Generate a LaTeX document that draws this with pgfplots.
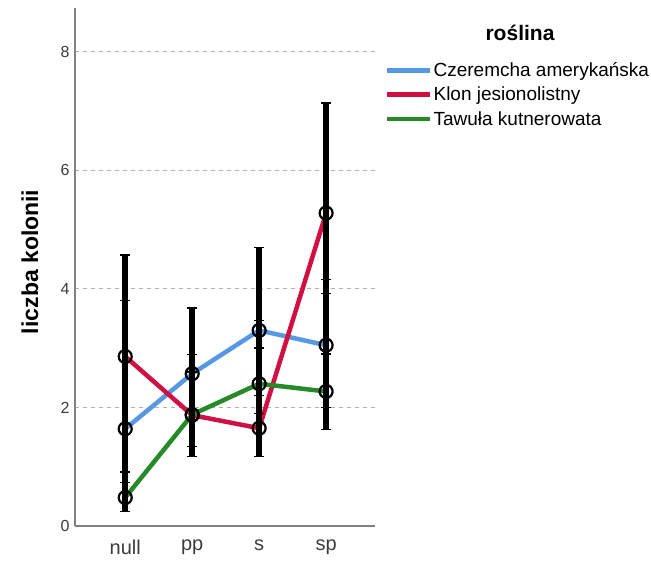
\documentclass[border=0pt]{standalone}
\usepackage{pgfplots}
\pgfplotsset{compat=1.18}
\usepackage{pgfplotstable}
\usepackage{fontspec}
\setmainfont{Liberation Sans}
\definecolor{cblue}{RGB}{86,152,226}
\definecolor{cred}{RGB}{208,16,66}
\definecolor{cgreen}{RGB}{38,138,40}
\definecolor{gridgray}{RGB}{175,175,175}
\definecolor{axgray}{RGB}{130,130,130}
\definecolor{ticktext}{RGB}{60,60,60}
% x y lower upper
\pgfplotstableread{
x y lo hi
0 1.64 0.24 3.80
1 2.57 1.34 3.68
2 3.30 2.20 4.70
3 3.05 2.00 4.16
}\czeremcha
\pgfplotstableread{
x y lo hi
0 2.86 0.91 4.57
1 1.87 1.17 2.89
2 1.65 1.17 3.47
3 5.28 3.92 7.14
}\klon
\pgfplotstableread{
x y lo hi
0 0.48 0.24 0.73
1 1.88 1.34 2.60
2 2.40 1.90 3.00
3 2.27 1.63 2.90
}\tawula
\pgfplotstablecreatecol[expr={\thisrow{hi}-\thisrow{y}}]{ep}{\czeremcha}
\pgfplotstablecreatecol[expr={\thisrow{y}-\thisrow{lo}}]{em}{\czeremcha}
\pgfplotstablecreatecol[expr={\thisrow{hi}-\thisrow{y}}]{ep}{\klon}
\pgfplotstablecreatecol[expr={\thisrow{y}-\thisrow{lo}}]{em}{\klon}
\pgfplotstablecreatecol[expr={\thisrow{hi}-\thisrow{y}}]{ep}{\tawula}
\pgfplotstablecreatecol[expr={\thisrow{y}-\thisrow{lo}}]{em}{\tawula}
\begin{document}
\begin{tikzpicture}
\path[use as bounding box] (0,0) rectangle (651pt,562pt);
\begin{axis}[
  at={(75pt,36pt)}, anchor=south west,
  scale only axis, width=300pt, height=518pt,
  xmin=-0.75, xmax=3.73, ymin=0, ymax=8.74,
  axis lines*=left,
  axis line style={axgray, line width=1.2pt},
  xtick={0,1,2,3}, xticklabels={null,pp,s,sp},
  ytick={0,2,4,6,8},
  major tick length=0pt,
  ymajorgrids, grid style={gridgray, dashed, line width=0.9pt, dash pattern=on 4pt off 4pt},
  /pgf/number format/assume math mode=true,
  xticklabel style={font=\fontsize{20}{20}\selectfont, color=ticktext, yshift=-10pt},
  yticklabel style={font=\fontsize{16}{16}\selectfont, color=ticktext, xshift=-2pt},
  ylabel={\textbf{liczba kolonii}},
  ylabel style={font=\fontsize{23}{23}\selectfont, at={(axis description cs:-0.15,0.51)}, anchor=center, rotate=0},
  legend style={draw=none, fill=none, at={(axis description cs:1.033,0.895)}, anchor=north west,
    font=\fontsize{19}{19}\selectfont, row sep=9pt, inner sep=0pt,
    nodes={inner xsep=1pt, inner ysep=0pt}},
  legend cell align=left,
  legend image code/.code={\draw[line width=4.5pt] (0pt,0pt) -- (43pt,0pt);},
  clip=false,
]
\addplot[cblue, line width=4.5pt] table[x=x,y=y] {\czeremcha};
\addlegendentry{Czeremcha amerykańska}
\addplot[cred, line width=4.5pt] table[x=x,y=y] {\klon};
\addlegendentry{Klon jesionolistny}
\addplot[cgreen, line width=4.5pt] table[x=x,y=y] {\tawula};
\addlegendentry{Tawuła kutnerowata}
\pgfplotsset{ebar/.style={forget plot, only marks, mark=o, mark size=6.5pt,
  mark options={black, line width=2.2pt, fill=none},
  error bars/.cd, y dir=both, y explicit,
  error bar style={draw=black, line width=5.5pt},
  error mark options={draw=black, line width=1.4pt, mark size=5pt, rotate=90}}}
\addplot[ebar] table[x=x,y=y,y error plus=ep,y error minus=em] {\czeremcha};
\addplot[ebar] table[x=x,y=y,y error plus=ep,y error minus=em] {\klon};
\addplot[ebar] table[x=x,y=y,y error plus=ep,y error minus=em] {\tawula};
\end{axis}
\node[font=\bfseries\fontsize{21}{21}\selectfont] at (520pt,529pt) {roślina};
\end{tikzpicture}
\end{document}
